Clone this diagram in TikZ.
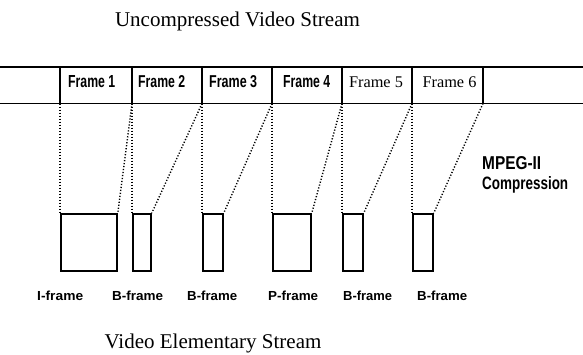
\documentclass[tikz,border=0pt]{standalone}
\usepackage{fontspec}
\setmainfont{Liberation Serif}
\setsansfont{Liberation Sans}
\usepackage{graphicx}
\newcommand{\pixtext}[3]{\resizebox{#1pt}{#2pt}{\sffamily\bfseries #3}}
\begin{document}
\begin{tikzpicture}[x=1pt,y=-1pt,
  band/.style={line width=1.8pt},
  fbox/.style={draw,line width=1.8pt,inner sep=0pt,minimum height=57pt,anchor=north west},
  dots/.style={line width=1.4pt,dash pattern=on 1.2pt off 1.8pt},
  pix/.style={inner sep=0pt,anchor=base west},
  serif/.style={inner sep=0pt,anchor=base,font=\fontsize{16.3}{19}\selectfont},
  title/.style={inner sep=0pt,anchor=base,font=\fontsize{21}{25}\selectfont}]
\useasboundingbox (0,0) rectangle (583,354);
% band
\coordinate (L1) at (0,67);   \coordinate (R1) at (583,67);
\coordinate (L2) at (0,103.5); \coordinate (R2) at (583,103.5);
\draw[band] (L1) -- (R1);
\draw[band] (L2) -- (R2);
\foreach \i/\x in {1/60,2/132,3/202,4/272,5/342,6/412,7/483}{
  \coordinate (t\i) at (\x,67);
  \coordinate (d\i) at (\x,103.5);
  \draw[band] (t\i) -- (d\i);
}
% frame labels
\node[pix] (f1) at (68,87) {\pixtext{47}{12}{Frame 1}};
\node[pix] (f2) at (138,87) {\pixtext{47}{12}{Frame 2}};
\node[pix] (f3) at (209,87) {\pixtext{48}{12}{Frame 3}};
\node[pix] (f4) at (283,87) {\pixtext{47}{12}{Frame 4}};
\node[serif] (f5) at (376,87) {Frame 5};
\node[serif] (f6) at (449.5,87) {Frame 6};
% boxes
\node[fbox,minimum width=56pt] (b1) at (60,213) {};
\node[fbox,minimum width=18pt] (b2) at (132,213) {};
\node[fbox,minimum width=20pt] (b3) at (202,213) {};
\node[fbox,minimum width=38pt] (b4) at (272,213) {};
\node[fbox,minimum width=20pt] (b5) at (342,213) {};
\node[fbox,minimum width=20pt] (b6) at (412,213) {};
% dotted connectors
\foreach \i/\j in {1/2,2/3,3/4,4/5,5/6,6/7}{
  \draw[dots] (d\i) -- (b\i.north west);
  \draw[dots] (d\j) -- (b\i.north east);
}
% MPEG label
\node[pix] (m1) at (482,169) {\pixtext{59}{13}{MPEG-II}};
\node[pix] (m2) at (482,189) {\pixtext{86}{13}{Compression}};
% bottom labels
\node[pix] (l1) at (37,300) {\pixtext{46}{9.5}{I-frame}};
\node[pix] (l2) at (112,300) {\pixtext{51}{9.5}{B-frame}};
\node[pix] (l3) at (187,300) {\pixtext{50}{9.5}{B-frame}};
\node[pix] (l4) at (268,300) {\pixtext{50}{9.5}{P-frame}};
\node[pix] (l5) at (343,300) {\pixtext{49}{9.5}{B-frame}};
\node[pix] (l6) at (417,300) {\pixtext{50}{9.5}{B-frame}};
% titles
\node[title] (top) at (237.5,26.7) {Uncompressed Video Stream};
\node[title] (bot) at (213,348) {Video Elementary Stream};
\end{tikzpicture}
\end{document}
